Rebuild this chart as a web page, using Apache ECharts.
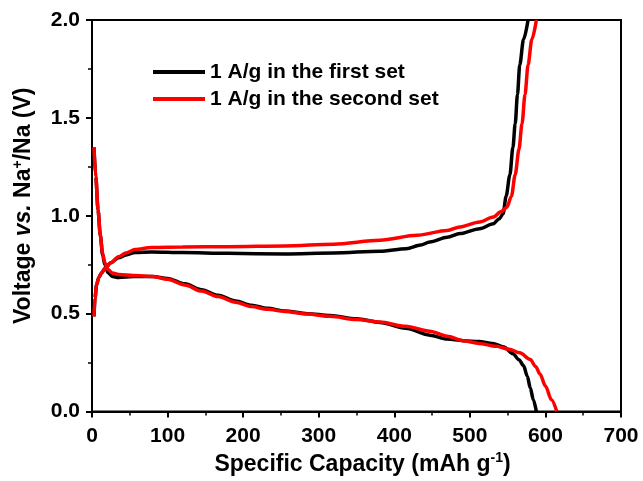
<!DOCTYPE html>
<html>
<head>
<meta charset="utf-8">
<script src="https://cdn.jsdelivr.net/npm/echarts@6/dist/echarts.min.js"></script>
<style>
  html, body { margin: 0; padding: 0; background: #fff; }
  #chart { width: 643px; height: 481px; }
</style>
</head>
<body>
<div id="chart"></div>
<script>
// 数据 (容量 mAh/g, 电压 V)
var seriesNames = ['1 A/g in the first set', '1 A/g in the second set'];
var xTicks = [0, 100, 200, 300, 400, 500, 600, 700];
var yTicks = [0.0, 0.5, 1.0, 1.5, 2.0];

// 第一组 放电 / 充电
var firstDischarge = [
    [2.6, 1.35], [5, 1.2], [8, 1.03], [11, 0.9], [14, 0.8], [17, 0.75], [21, 0.71],
    [27, 0.69], [35, 0.685], [55, 0.69], [80, 0.69], [100, 0.68], [123, 0.652],
    [145, 0.622], [167, 0.594], [190, 0.565], [211, 0.543], [232, 0.527], [255, 0.514],
    [285, 0.5], [315, 0.49], [350, 0.474], [381, 0.455], [415, 0.425], [447, 0.39],
    [470, 0.37], [491, 0.362], [512, 0.357], [530, 0.348], [545, 0.33], [557, 0.295],
    [565, 0.265], [571, 0.235], [576, 0.18], [580, 0.12], [584, 0.06], [588, 0.0]
];
var firstCharge = [
    [2.6, 0.486], [4, 0.58], [6, 0.646], [9, 0.685], [13, 0.71], [17, 0.73], [25, 0.76],
    [35, 0.785], [45, 0.8], [57, 0.812], [79, 0.815], [120, 0.812], [180, 0.808],
    [255, 0.805], [320, 0.81], [381, 0.819], [416, 0.832], [435, 0.85], [447, 0.866],
    [470, 0.89], [487, 0.909], [513, 0.934], [531, 0.959], [539, 0.985], [544, 1.01],
    [548, 1.1], [553, 1.21], [557, 1.35], [560, 1.47], [563, 1.62], [566, 1.77],
    [571, 1.9], [577, 2.0]
];

// 第二组 放电 / 充电
var secondDischarge = [
    [2.6, 1.35], [5, 1.2], [8, 1.03], [11, 0.9], [14, 0.81], [17, 0.76], [21, 0.725],
    [27, 0.708], [35, 0.7], [55, 0.695], [80, 0.69], [100, 0.675], [123, 0.646],
    [145, 0.615], [167, 0.587], [190, 0.558], [211, 0.536], [232, 0.522], [255, 0.511],
    [285, 0.498], [315, 0.486], [350, 0.47], [381, 0.457], [415, 0.435], [447, 0.41],
    [470, 0.385], [491, 0.362], [512, 0.348], [535, 0.333], [552, 0.318], [566, 0.3],
    [580, 0.266], [587, 0.23], [593, 0.19], [600, 0.13], [608, 0.06], [615, 0.0]
];
var secondCharge = [
    [2.6, 0.486], [4, 0.58], [6, 0.646], [9, 0.685], [13, 0.71], [17, 0.73], [25, 0.76],
    [35, 0.79], [45, 0.81], [57, 0.827], [79, 0.838], [120, 0.84], [180, 0.842],
    [255, 0.846], [320, 0.855], [381, 0.875], [430, 0.9], [470, 0.925], [487, 0.943],
    [513, 0.968], [531, 0.993], [541, 1.02], [549, 1.044], [555, 1.1], [560, 1.21],
    [565, 1.34], [569, 1.47], [573, 1.62], [577, 1.77], [582, 1.9], [588, 2.0]
];

var FONT = 'Arial, "Liberation Sans", sans-serif';

//曲线
var makeLine = function makeLine(name, data, color) {
    return {
        type: 'line',
        name: name,
        data: data,
        showSymbol: false,
        symbol: 'none',
        smooth: 0.3,
        smoothMonotone: 'x',
        lineStyle: { color: color, width: 3.5 },
        itemStyle: { color: color },
        silent: true
    };
};

//标题富文本
var titleRich = {
    a: { fontSize: 23, fontWeight: 'bold', fontFamily: FONT, color: '#000', lineHeight: 26 },
    i: { fontSize: 23, fontWeight: 'bold', fontStyle: 'italic', fontFamily: FONT, color: '#000', lineHeight: 26 },
    sup: { fontSize: 14, fontWeight: 'bold', fontFamily: FONT, color: '#000', lineHeight: 26, verticalAlign: 'top' }
};

var chart = echarts.init(document.getElementById('chart'));
var option = {
    backgroundColor: '#fff',
    animation: false,
    grid: {
        left: 92, top: 20, right: 22, bottom: 67,
        show: true, borderColor: '#000', borderWidth: 2
    },
    legend: {
        data: seriesNames,
        orient: 'vertical',
        left: 148,
        top: 55,
        icon: 'rect',
        itemWidth: 52,
        itemHeight: 4,
        itemGap: 3,
        textStyle: { color: '#000', fontSize: 21, lineHeight: 24, fontWeight: 'bold', fontFamily: FONT }
    },
    xAxis: {
        type: 'value',
        min: xTicks[0],
        max: xTicks[xTicks.length - 1],
        interval: 100,
        name: '{a|Specific Capacity (mAh g}{sup|-1}{a|)}',
        nameLocation: 'middle',
        nameGap: 40,
        nameTextStyle: { rich: titleRich, padding: [0, 0, 0, 12] },
        axisLine: { lineStyle: { color: '#000', width: 2 } },
        axisTick: { inside: false, length: 6, lineStyle: { color: '#000', width: 2 } },
        minorTick: { show: true, splitNumber: 2, length: 4, lineStyle: { color: '#000', width: 1.5 } },
        splitLine: { show: false },
        axisLabel: { color: '#000', fontSize: 21, fontWeight: 'bold', fontFamily: FONT, margin: 14 }
    },
    yAxis: {
        type: 'value',
        min: yTicks[0],
        max: yTicks[yTicks.length - 1],
        interval: 0.5,
        name: '{a|Voltage }{i|vs.}{a| Na}{sup|+}{a|/Na (V)}',
        nameLocation: 'middle',
        nameGap: 55,
        nameRotate: 90,
        nameTextStyle: { rich: titleRich, padding: [0, 0, 0, 20] },
        axisLine: { lineStyle: { color: '#000', width: 2 } },
        axisTick: { inside: false, length: 6, lineStyle: { color: '#000', width: 2 } },
        minorTick: { show: true, splitNumber: 2, length: 4, lineStyle: { color: '#000', width: 1.5 } },
        splitLine: { show: false },
        axisLabel: {
            color: '#000', fontSize: 21, fontWeight: 'bold', fontFamily: FONT, margin: 12,
            formatter: function (v) { return v.toFixed(1); }
        }
    },
    series: [
        makeLine(seriesNames[0], firstDischarge, '#000'),
        makeLine(seriesNames[0], firstCharge, '#000'),
        makeLine(seriesNames[1], secondDischarge, '#f00'),
        makeLine(seriesNames[1], secondCharge, '#f00')
    ]
};
chart.setOption(option);
</script>
</body>
</html>
